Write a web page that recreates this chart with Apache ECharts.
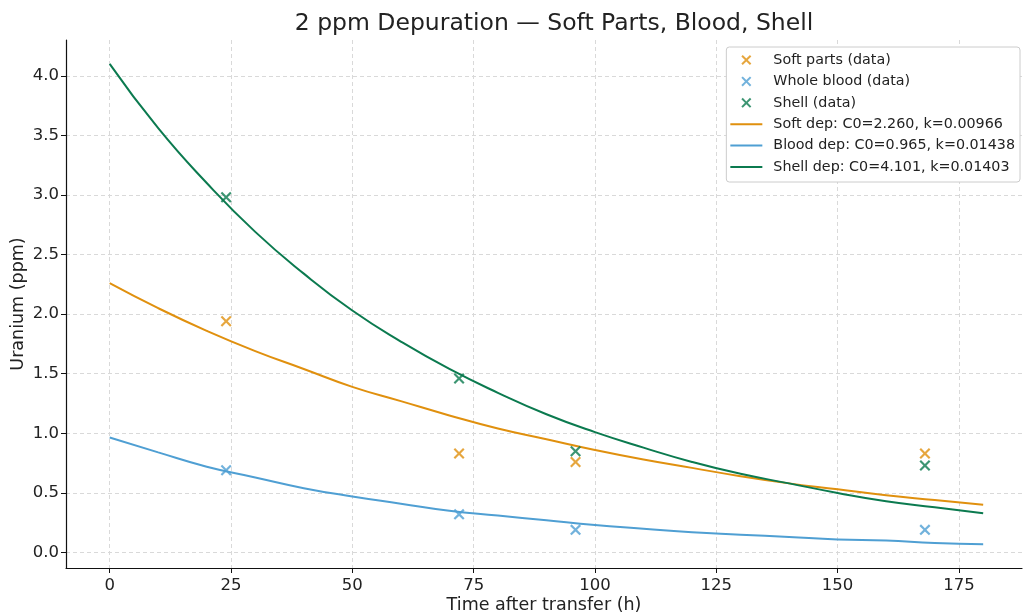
<!DOCTYPE html>
<html>
<head>
<meta charset="utf-8">
<script src="https://cdn.jsdelivr.net/npm/echarts@6/dist/echarts.min.js"></script>
<style>
  html, body { margin: 0; padding: 0; background: #fff; }
  #chart { width: 1023px; height: 614px; }
</style>
</head>
<body>
<div id="chart"></div>
<script>
// sampling times (h)
const sampleHours = [24, 72, 96, 168];
const softData = [1.94, 0.83, 0.76, 0.83];
const bloodData = [0.69, 0.32, 0.19, 0.19];
const shellData = [2.98, 1.46, 0.85, 0.73];

// fitted curves, every 10 h
const fitHours = [0, 10, 20, 30, 40, 50, 60, 70, 80, 90, 100, 110, 120, 130, 140, 150, 160, 170, 180];
const softFit = [2.26, 2.05, 1.86, 1.69, 1.54, 1.39, 1.27, 1.15, 1.04, 0.95, 0.86, 0.78, 0.71, 0.64, 0.58, 0.53, 0.48, 0.44, 0.40];
const bloodFit = [0.965, 0.84, 0.72, 0.63, 0.54, 0.47, 0.41, 0.35, 0.31, 0.27, 0.23, 0.20, 0.17, 0.15, 0.13, 0.11, 0.10, 0.08, 0.07];
const shellFit = [4.10, 3.56, 3.10, 2.69, 2.34, 2.03, 1.77, 1.54, 1.34, 1.16, 1.01, 0.88, 0.76, 0.66, 0.58, 0.50, 0.43, 0.38, 0.33];

const xTicks = [0, 25, 50, 75, 100, 125, 150, 175];
const yTicks = [0, 0.5, 1, 1.5, 2, 2.5, 3, 3.5, 4];

const COLORS = { soft: "#e0900e", blood: "#4f9fd3", shell: "#0b7a4f" };
const X_MARK = "path://M1.4,0L5,3.6L8.6,0L10,1.4L6.4,5L10,8.6L8.6,10L5,6.4L1.4,10L0,8.6L3.6,5L0,1.4Z";
// thin bar inside a 32x10 box (zero-area corners keep the box size)
const LINE_ICON = "path://M0,0L0.01,0L0,0Z M0,4L32,4L32,6L0,6Z M32,10L31.99,10L32,10Z";
const FONT = "DejaVu Sans";

const softName = "Soft dep: C0=2.260, k=0.00966";
const bloodName = "Blood dep: C0=0.965, k=0.01438";
const shellName = "Shell dep: C0=4.101, k=0.01403";

const pair = (xs, ys) => xs.map((x, i) => [x, ys[i]]);

const chart = echarts.init(document.getElementById("chart"));

function scatter(name, ys, color) {
  return {
    name: name,
    type: "scatter",
    data: pair(sampleHours, ys),
    symbol: X_MARK,
    symbolSize: 11,
    itemStyle: { color: color },
    z: 3,
  };
}

function fitLine(name, ys, color) {
  return {
    name: name,
    type: "line",
    data: pair(fitHours, ys),
    smooth: true,
    symbol: "none",
    lineStyle: { color: color, width: 2 },
    itemStyle: { color: color },
    z: 2,
  };
}

const axisCommon = {
  axisLine: { show: true, onZero: false, lineStyle: { color: "#111", width: 1.2 } },
  splitLine: { show: true, lineStyle: { color: "#d9d9d9", type: [4, 3], width: 1 } },
  nameTextStyle: { fontFamily: FONT, fontSize: 17.5, color: "#222" },
  nameMoveOverlap: false,
};
const tickStyle = { show: true, inside: false, length: 5, lineStyle: { color: "#111" } };
const labelStyle = { fontFamily: FONT, fontSize: 16.5, color: "#222" };

chart.setOption({
  animation: false,
  backgroundColor: "#fff",
  title: {
    text: "2 ppm Depuration — Soft Parts, Blood, Shell",
    left: 549,
    top: 7,
    textAlign: "center",
    textStyle: { fontFamily: FONT, fontSize: 23.5, fontWeight: "normal", color: "#222" },
  },
  legend: {
    orient: "vertical",
    right: 3,
    top: 47,
    itemWidth: 32,
    itemHeight: 10,
    itemGap: 7.4,
    padding: [6, 5, 8, 4],
    backgroundColor: "#fff",
    borderColor: "#cccccc",
    borderWidth: 1,
    borderRadius: 3,
    textStyle: { fontFamily: FONT, fontSize: 14.3, color: "#222", padding: [0, 0, 0, 6] },
    data: [
      "Soft parts (data)",
      "Whole blood (data)",
      "Shell (data)",
      { name: softName, icon: LINE_ICON },
      { name: bloodName, icon: LINE_ICON },
      { name: shellName, icon: LINE_ICON },
    ],
  },
  grid: { left: 66, right: 1, top: 40, bottom: 46, outerBoundsMode: "none", containLabel: false },
  xAxis: Object.assign({}, axisCommon, {
    type: "value",
    min: -9,
    max: 188,
    name: "Time after transfer (h)",
    nameLocation: "middle",
    nameGap: 28,
    axisTick: Object.assign({ customValues: xTicks }, tickStyle),
    axisLabel: Object.assign({ customValues: xTicks, margin: 9 }, labelStyle),
  }),
  yAxis: Object.assign({}, axisCommon, {
    type: "value",
    min: -0.13,
    max: 4.3,
    name: "Uranium (ppm)",
    nameLocation: "middle",
    nameGap: 39,
    axisTick: Object.assign({ customValues: yTicks }, tickStyle),
    axisLabel: Object.assign({ customValues: yTicks, margin: 7, formatter: (v) => v.toFixed(1) }, labelStyle),
  }),
  series: [
    scatter("Soft parts (data)", softData, COLORS.soft),
    scatter("Whole blood (data)", bloodData, COLORS.blood),
    scatter("Shell (data)", shellData, COLORS.shell),
    fitLine(softName, softFit, COLORS.soft),
    fitLine(bloodName, bloodFit, COLORS.blood),
    fitLine(shellName, shellFit, COLORS.shell),
  ],
});
</script>
</body>
</html>
